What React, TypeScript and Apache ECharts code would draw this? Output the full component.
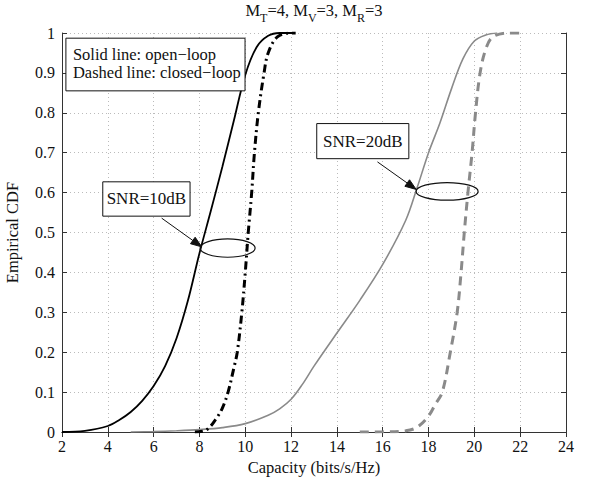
import React, { useEffect, useRef } from "react";
import * as echarts from "echarts";

// ---- data ----
const openLoop10: [number, number][] = [
  [2, 0], [3, 0.003], [4, 0.015], [4.5, 0.03], [5, 0.05], [5.5, 0.078], [6, 0.115],
  [6.5, 0.165], [7, 0.235], [7.5, 0.33], [8, 0.448], [8.5, 0.555], [9, 0.665],
  [9.5, 0.78], [10, 0.895], [10.5, 0.965], [11, 0.993], [11.5, 1], [12.1, 1],
];
const closedLoop10: [number, number][] = [
  [7.8, 0], [8.3, 0.005], [8.75, 0.035], [9, 0.06], [9.25, 0.1], [9.5, 0.16],
  [9.65, 0.2], [9.85, 0.3], [10, 0.4], [10.13, 0.5], [10.28, 0.6], [10.4, 0.7],
  [10.57, 0.8], [10.82, 0.9], [11.0, 0.95], [11.4, 0.99], [12.0, 1], [12.2, 1],
];
const openLoop20: [number, number][] = [
  [5, 0], [6, 0.001], [7, 0.003], [8, 0.006], [9, 0.011], [10, 0.021], [11, 0.042],
  [11.5, 0.058], [12, 0.082], [12.5, 0.12], [13, 0.165], [14, 0.248], [15, 0.33],
  [16, 0.42], [17, 0.53], [17.5, 0.612], [18, 0.7], [18.5, 0.775], [19, 0.86],
  [19.5, 0.935], [20, 0.98], [20.5, 0.995], [21, 1],
];
const closedLoop20: [number, number][] = [
  [15, 0], [16, 0.0005], [17, 0.003], [17.5, 0.012], [18, 0.04], [18.3, 0.07],
  [18.6, 0.1], [18.95, 0.2], [19.25, 0.3], [19.42, 0.4], [19.56, 0.5], [19.72, 0.6],
  [19.9, 0.7], [20.05, 0.8], [20.25, 0.9], [20.5, 0.96], [20.8, 0.99], [21.5, 1], [22, 1],
];

const xMin = 2;
const xMax = 24;
const xStep = 2;
const yMin = 0;
const yMax = 1;
const yStep = 0.1;

const titleParts = ["M", "T", "=4, M", "V", "=3, M", "R", "=3"];
const legendLines = ["Solid line: open\u2212loop", "Dashed line: closed\u2212loop"];
const snrLabels = ["SNR=10dB", "SNR=20dB"];

// annotation anchors in data coordinates
const legendBox = { x0: 2.17, y0: 0.987, x1: 9.99, y1: 0.855 };
const snrBoxes = [
  { x0: 3.78, y0: 0.627, x1: 7.59, y1: 0.541 },
  { x0: 13.12, y0: 0.773, x1: 17.14, y1: 0.685 },
];
const snrArrows = [
  { from: [6.35, 0.536], to: [8.1, 0.464] },
  { from: [15.77, 0.677], to: [17.46, 0.608] },
];
const snrEllipses = [
  { cx: 9.23, cy: 0.461, rx: 1.2, ry: 0.023 },
  { cx: 18.81, cy: 0.603, rx: 1.354, ry: 0.022 },
];

const FONT = "'Liberation Serif', 'Times New Roman', serif";

export default function App() {
  const ref = useRef<HTMLDivElement>(null);
  useEffect(() => {
    if (!ref.current) return;
    const chart = echarts.init(ref.current, undefined, { renderer: "svg" });
    const mirror = {
      show: true,
      axisLabel: { show: false },
      axisTick: { show: true, inside: true, length: 5, lineStyle: { color: "#333" } },
      axisLine: { show: true, lineStyle: { color: "#333", width: 1 } },
      splitLine: { show: false },
    };
    const option: any = {
      animation: false,
      backgroundColor: "#fff",
      grid: { left: 62, right: 23, top: 33, bottom: 45, outerBoundsMode: "none" },
      xAxis: [
        {
          type: "value", min: xMin, max: xMax, interval: xStep, position: "bottom",
          name: "Capacity (bits/s/Hz)", nameLocation: "middle", nameGap: 26,
          nameTextStyle: { fontFamily: FONT, fontSize: 16.5, color: "#111" },
          axisLine: { show: true, onZero: false, lineStyle: { color: "#333", width: 1 } },
          axisTick: { show: true, inside: true, length: 5, lineStyle: { color: "#333" } },
          axisLabel: { fontFamily: FONT, fontSize: 16, color: "#111", margin: 6 },
          splitLine: { show: true, lineStyle: { color: "#bbb", type: [1, 3], width: 1 } },
        },
        { type: "value", min: xMin, max: xMax, interval: xStep, position: "top", ...mirror },
      ],
      yAxis: [
        {
          type: "value", min: yMin, max: yMax, interval: yStep, position: "left",
          name: "Empirical CDF", nameLocation: "middle", nameGap: 41, nameRotate: 90,
          nameTextStyle: { fontFamily: FONT, fontSize: 16.5, color: "#111" },
          axisLine: { show: true, onZero: false, lineStyle: { color: "#333", width: 1 } },
          axisTick: { show: true, inside: true, length: 5, lineStyle: { color: "#333" } },
          axisLabel: { fontFamily: FONT, fontSize: 16, color: "#111", margin: 7 },
          splitLine: { show: true, lineStyle: { color: "#bbb", type: [1, 3], width: 1 } },
        },
        { type: "value", min: yMin, max: yMax, interval: yStep, position: "right", ...mirror },
      ],
      series: [
        {
          name: "closed-loop 20dB", type: "line", data: closedLoop20, showSymbol: false,
          smooth: 0.35, z: 2,
          lineStyle: { color: "#8a8a8a", width: 3, type: [9, 6] },
        },
        {
          name: "open-loop 20dB", type: "line", data: openLoop20, showSymbol: false,
          smooth: 0.35, z: 3,
          lineStyle: { color: "#8a8a8a", width: 1.6 },
        },
        {
          name: "closed-loop 10dB", type: "line", data: closedLoop10, showSymbol: false,
          smooth: 0.35, z: 4,
          lineStyle: { color: "#000", width: 3, type: [8, 4, 2, 4] },
        },
        {
          name: "open-loop 10dB", type: "line", data: openLoop10, showSymbol: false,
          smooth: 0.35, z: 5,
          lineStyle: { color: "#000", width: 1.8 },
        },
      ],
    };
    chart.setOption(option);

    const px = (x: number, y: number) =>
      chart.convertToPixel({ xAxisIndex: 0, yAxisIndex: 0 }, [x, y]) as number[];

    const graphics: any[] = [];
    // title with subscripts
    const rich: string[] = titleParts.map((p, i) => (i % 2 === 0 ? `{a|${p}}` : `{s|${p}}`));
    const pLeft = px(xMin, yMax);
    const pRight = px(xMax, yMax);
    graphics.push({
      type: "text",
      x: (pLeft[0] + pRight[0]) / 2,
      y: 2,
      z: 100,
      style: {
        text: rich.join(""),
        align: "center",
        verticalAlign: "top",
        fill: "#111",
        font: `16.5px ${FONT}`,
        rich: {
          a: { fontFamily: FONT, fontSize: 16.5, verticalAlign: "bottom", padding: [0, 0, 5, 0], fill: "#111" },
          s: { fontFamily: FONT, fontSize: 12, verticalAlign: "bottom", padding: [0, 0, 0, 0], fill: "#111" },
        },
      },
    });

    // legend box
    const lb0 = px(legendBox.x0, legendBox.y0);
    const lb1 = px(legendBox.x1, legendBox.y1);
    graphics.push({
      type: "rect", z: 100,
      shape: { x: lb0[0], y: lb0[1], width: lb1[0] - lb0[0], height: lb1[1] - lb0[1] },
      style: { fill: "#fff", stroke: "#111", lineWidth: 1 },
    });
    legendLines.forEach((t, i) => {
      graphics.push({
        type: "text", z: 101,
        x: lb0[0] + 7, y: lb0[1] + 16 + i * 18.5,
        style: { text: t, font: `16.5px ${FONT}`, fill: "#111", verticalAlign: "middle", align: "left" },
      });
    });

    // SNR annotations
    snrBoxes.forEach((b, i) => {
      const p0 = px(b.x0, b.y0);
      const p1 = px(b.x1, b.y1);
      graphics.push({
        type: "rect", z: 100,
        shape: { x: p0[0], y: p0[1], width: p1[0] - p0[0], height: p1[1] - p0[1] },
        style: { fill: "#fff", stroke: "#111", lineWidth: 1 },
      });
      graphics.push({
        type: "text", z: 101,
        x: (p0[0] + p1[0]) / 2, y: (p0[1] + p1[1]) / 2,
        style: { text: snrLabels[i], font: `17px ${FONT}`, fill: "#111", align: "center", verticalAlign: "middle" },
      });
      const a = snrArrows[i];
      const f = px(a.from[0], a.from[1]);
      const t = px(a.to[0], a.to[1]);
      const dx = t[0] - f[0];
      const dy = t[1] - f[1];
      const len = Math.sqrt(dx * dx + dy * dy);
      const ux = dx / len;
      const uy = dy / len;
      const hl = 11;
      const hw = 4;
      const bx = t[0] - ux * hl;
      const by = t[1] - uy * hl;
      graphics.push({
        type: "line", z: 100,
        shape: { x1: f[0], y1: f[1], x2: bx, y2: by },
        style: { stroke: "#111", lineWidth: 1 },
      });
      graphics.push({
        type: "polygon", z: 100,
        shape: { points: [[t[0], t[1]], [bx - uy * hw, by + ux * hw], [bx + uy * hw, by - ux * hw]] },
        style: { fill: "#111", stroke: "#111", lineWidth: 1 },
      });
      const e = snrEllipses[i];
      const c = px(e.cx, e.cy);
      const cr = px(e.cx + e.rx, e.cy + e.ry);
      graphics.push({
        type: "ellipse", z: 100,
        shape: { cx: c[0], cy: c[1], rx: Math.abs(cr[0] - c[0]), ry: Math.abs(cr[1] - c[1]) },
        style: { fill: "none", stroke: "#111", lineWidth: 1.2 },
      });
    });

    chart.setOption({ graphic: graphics });
    return () => chart.dispose();
  }, []);
  return <div ref={ref} style={{ width: 589, height: 477, position: "absolute", left: 0, top: 0 }} />;
}
